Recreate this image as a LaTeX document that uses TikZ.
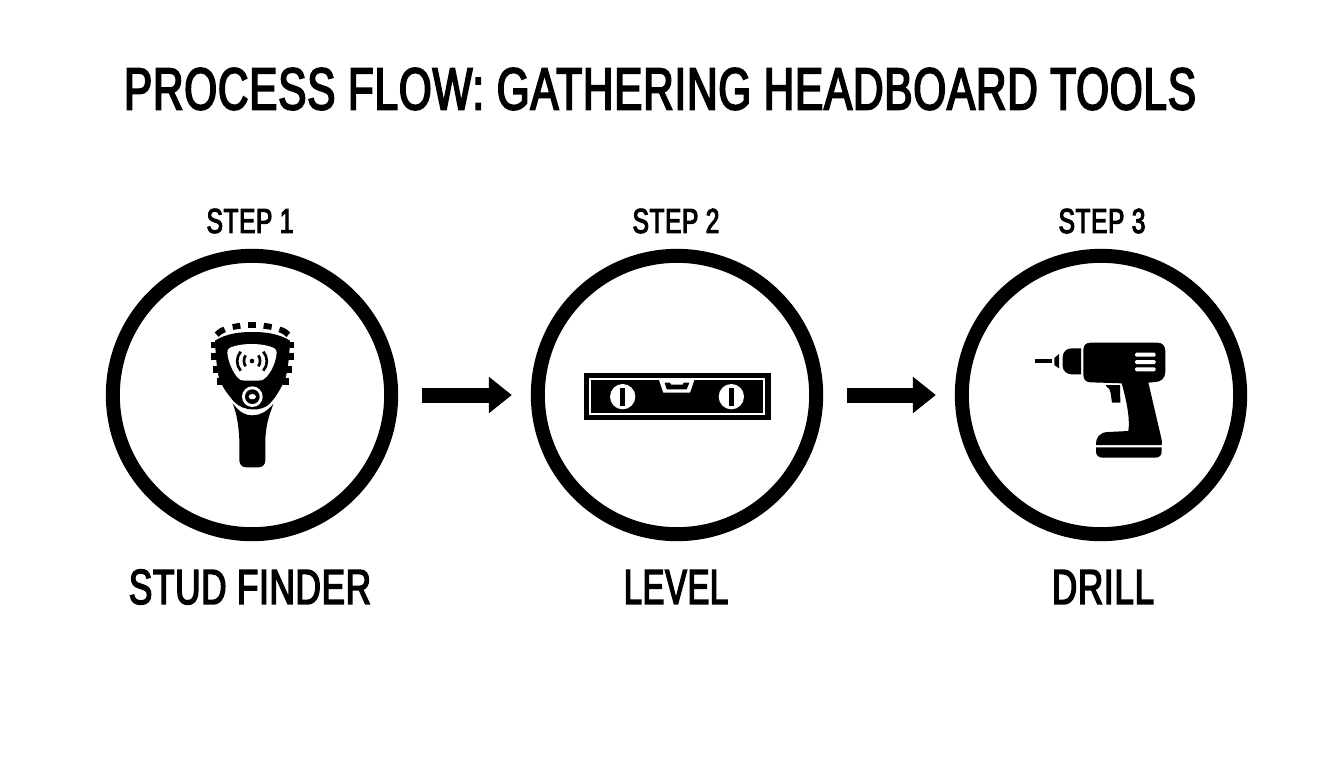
\documentclass[tikz,border=0pt]{standalone}
\usepackage{fontspec}
\setmainfont[FakeStretch=0.71,FakeBold=3,LetterSpace=1.5]{Liberation Sans}
\newfontfamily\levelfont[FakeStretch=0.66,FakeBold=3,LetterSpace=1.5]{Liberation Sans}
\usetikzlibrary{arrows.meta}
\tikzset{
  ring/.style={circle,draw=black,line width=10.5pt,minimum size=208.75pt,inner sep=0pt,fill=white},
  flowarrow/.style={line width=11.25pt,-{Triangle[length=17.25pt,width=26.25pt]},shorten <=18pt,shorten >=14.25pt},
  titletext/.style={inner sep=0pt,font=\fontsize{44.5pt}{50pt}\selectfont},
  steptext/.style={inner sep=0pt,font=\fontsize{26pt}{30pt}\selectfont},
  nametext/.style={inner sep=0pt,font=\fontsize{37pt}{42pt}\selectfont},
  zoomgrid/.style={x=.25pt,y=-.25pt},
  wh/.style={fill=white,draw=none},
  bk/.style={fill=black,draw=none}
}
\begin{document}
\begin{tikzpicture}[x=.75pt,y=-.75pt]
\useasboundingbox (0,0) rectangle (1344,768);
\fill[white] (0,0) rectangle (1344,768);
\node[titletext] (title) at (660,89) {PROCESS FLOW: GATHERING HEADBOARD TOOLS};
\node[ring] (c1) at (252,395) {};
\node[ring] (c2) at (677,395) {};
\node[ring] (c3) at (1101,395) {};
\node[steptext] (s1) at (250,221) {STEP 1};
\node[steptext] (s2) at (676,221) {STEP 2};
\node[steptext] (s3) at (1102,221) {STEP 3};
\node[nametext] (n1) at (250,587) {STUD FINDER};
\node[nametext] (n2) at (676,587) {\levelfont LEVEL};
\node[nametext] (n3) at (1103,587) {DRILL};
\draw[flowarrow] (c1) -- (c2);
\draw[flowarrow] (c2) -- (c3);
% stud finder
\begin{scope}[shift={(190,300)},zoomgrid]
  \draw[line width=4.4pt,line cap=butt] (80,104) .. controls (86,96) and (94,92) .. (104,88);
  \draw[line width=4.4pt] (128,81) -- (151,77);
  \draw[line width=4.4pt] (175,76) -- (197,76);
  \draw[line width=4.4pt] (221,77) -- (245,81);
  \draw[line width=4.4pt] (268,88) .. controls (280,92) and (288,96) .. (295,104);
  \foreach \a/\b/\c in {64/85/125,63/85/160,70/90/198,80/98/235}{
    \fill (\a,\c) rectangle (\b,\c+20);
  }
  \foreach \a/\b/\c in {290/311/125,290/312/160,285/305/198,278/296/235}{
    \fill (\a,\c) rectangle (\b,\c+20);
  }
  \fill (75,122) .. controls (110,100) and (150,96) .. (187,96)
     .. controls (225,96) and (265,100) .. (300,122)
     .. controls (298,165) and (295,205) .. (285,240)
     .. controls (270,270) and (255,295) .. (238,312)
     .. controls (215,335) and (160,335) .. (132,305)
     .. controls (115,285) and (100,265) .. (88,240)
     .. controls (80,205) and (77,165) .. (75,122) -- cycle;
  \fill (128,310) .. controls (150,338) and (165,346) .. (187,346)
     .. controls (210,346) and (230,335) .. (250,312)
     .. controls (238,345) and (228,370) .. (226,420)
     -- (226,480) .. controls (226,494) and (218,502) .. (205,502)
     -- (170,502) .. controls (156,502) and (148,494) .. (148,480)
     -- (148,420) .. controls (146,375) and (140,340) .. (128,310) -- cycle;
  \fill[wh] (112,158) .. controls (112,145) and (120,142) .. (135,138)
     .. controls (165,130) and (205,130) .. (235,138)
     .. controls (250,142) and (260,146) .. (260,158)
     .. controls (258,185) and (245,215) .. (228,232)
     .. controls (222,240) and (215,242) .. (205,242)
     -- (165,242) .. controls (155,242) and (148,240) .. (142,232)
     .. controls (128,215) and (114,185) .. (112,158) -- cycle;
  \fill (186,183) circle (7);
  \draw[line width=2pt] (167,166) .. controls (160,175) and (160,190) .. (167,199);
  \draw[line width=2pt] (205,166) .. controls (212,175) and (212,190) .. (205,199);
  \draw[line width=2pt] (152,155) .. controls (138,172) and (138,195) .. (152,212);
  \draw[line width=2pt] (220,155) .. controls (234,172) and (234,195) .. (220,212);
  \fill[wh] (187,290) circle (31);
  \fill (187,290) circle (22);
  \fill[wh] (187,290) ellipse (11 and 8);
\end{scope}
% level
\begin{scope}[shift={(570,360)},zoomgrid]
  \fill (42,40) rectangle (602,181);
  \draw[white,line width=1.3pt] (60,57) rectangle (583,163);
  \fill[wh] (266,57) -- (374,57) -- (360,98) -- (280,98) -- cycle;
  \fill (284,68) -- (300,68) -- (303,74) -- (338,74) -- (341,68) -- (358,68) -- (350,88) -- (290,88) -- cycle;
  \fill[wh] (158,110) circle (38);
  \fill[wh] (484,110) circle (38);
  \fill (151,84) rectangle (165,138);
  \fill (477,84) rectangle (491,138);
\end{scope}
% drill
\begin{scope}[shift={(1020,330)},zoomgrid]
  \fill (45,87) rectangle (95,98);
  \fill (103,84) -- (117,72) -- (117,115) -- (103,105) -- cycle;
  \fill (128,82) .. controls (128,65) and (140,55) .. (155,55) -- (183,55) -- (183,133)
     -- (155,133) .. controls (140,133) and (128,122) .. (128,108) -- cycle;
  \fill (190,60) .. controls (190,46) and (198,38) .. (212,38)
     -- (412,38) .. controls (428,38) and (436,48) .. (436,64)
     -- (436,125) .. controls (436,145) and (422,156) .. (405,156)
     -- (385,158) -- (424,325) .. controls (426,335) and (426,340) .. (425,345)
     -- (228,345) .. controls (226,325) and (238,306) .. (265,306)
     -- (325,303) .. controls (330,270) and (322,220) .. (305,160)
     -- (212,157) .. controls (198,157) and (190,148) .. (190,135) -- cycle;
  \fill (258,165) -- (300,165) -- (301,218) -- (276,218) -- (272,190) .. controls (270,178) and (265,172) .. (258,168) -- cycle;
  \fill (228,352) -- (425,352) -- (425,365) .. controls (425,376) and (418,383) .. (405,383)
     -- (248,383) .. controls (236,383) and (228,376) .. (228,365) -- cycle;
  \foreach \yy in {68,90,112}{
    \fill[wh,rounded corners=1pt] (345,\yy) rectangle (407,\yy+12);
  }
\end{scope}
\end{tikzpicture}
\end{document}
